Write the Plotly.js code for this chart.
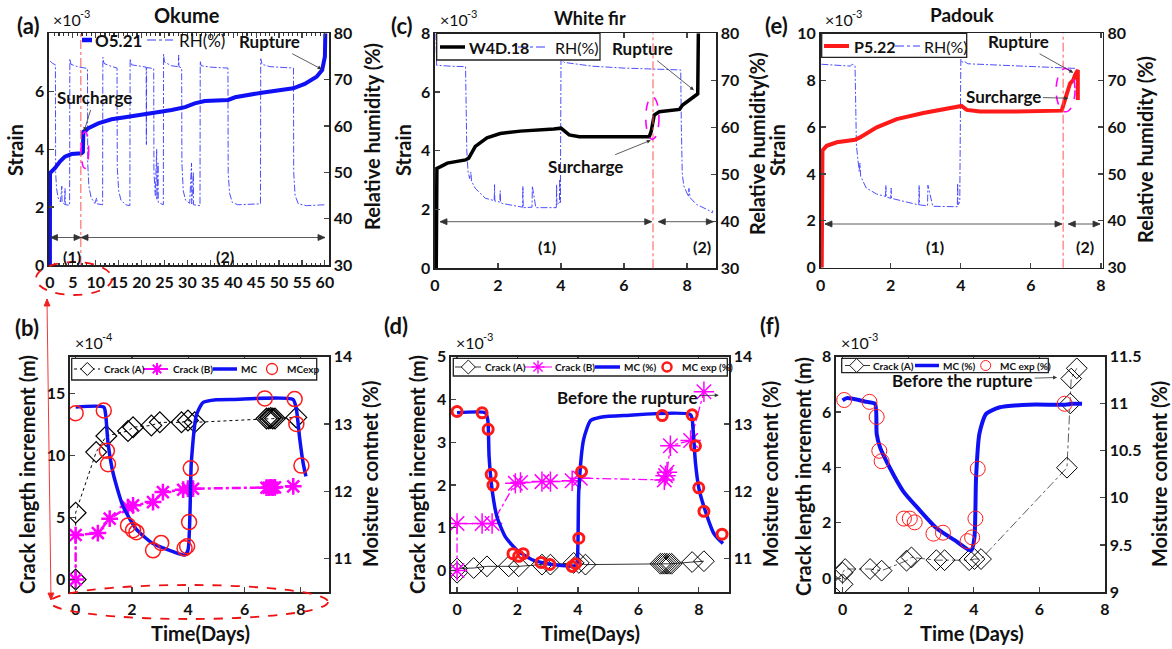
<!DOCTYPE html>
<html>
<head>
<meta charset="utf-8">
<script src="https://cdn.plot.ly/plotly-3.0.1.min.js"></script>
<style>html,body{margin:0;padding:0;background:#fff;}#chart{width:1172px;height:649px;}</style>
</head>
<body>
<div id="chart"></div>
<script>
// ---------- Panel (a) Okume ----------
const aTime = [0, 0.02, 1.09, 2.18, 3.27, 4.73, 6.9, 7.2, 7.3, 8.37, 10.55, 13.46, 16.4, 20.7, 22.9, 26.55, 29.5, 31.6, 33.8, 38.9, 40.4, 46.2, 53.1, 55.6, 58.2, 59.4, 60.0, 60.1];
const aStrain = [0, 3.17, 3.34, 3.57, 3.74, 3.83, 3.86, 3.9, 4.6, 4.72, 4.89, 5.03, 5.1, 5.21, 5.24, 5.35, 5.45, 5.58, 5.66, 5.7, 5.79, 5.95, 6.1, 6.25, 6.5, 6.73, 7.19, 8.0];
const aRhTime = [0.05, 0.6, 1.2, 1.25, 1.45, 1.8, 2.3, 2.6, 2.65, 3.2, 3.3, 3.35, 4.3,
  4.35, 4.6, 6.0, 8.2, 8.25, 8.5, 9.0, 9.8, 10.2, 10.3, 11.5,
  11.55, 11.8, 13.0, 14.65, 14.7, 15.0, 15.5, 16.5, 17.45,
  17.5, 17.8, 20.0, 21.0, 21.05, 21.1, 22.65, 22.7, 23.0, 23.3, 23.35, 23.6, 23.65, 24.75,
  24.8, 25.0, 26.5, 28.0, 28.1, 28.15, 28.75, 28.8, 29.1, 29.6, 30.5, 30.9, 30.95, 31.3, 31.35, 32.75,
  32.8, 33.0, 35.0, 38.85, 38.9, 39.2, 39.8, 41.0, 45.95,
  46.0, 46.3, 48.0, 53.15, 53.2, 53.5, 54.2, 56.0, 60.0];
const aRh = [74.0, 73.5, 73.2, 50, 46.5, 44.5, 43.6, 47, 43.5, 43.1, 46.5, 43.0, 42.9,
  74.5, 73.3, 72.8, 72.4, 52, 47, 44.5, 43.3, 44.5, 43.2, 43.0,
  74.8, 73.5, 73.0, 72.5, 51, 46, 44, 43, 42.8,
  74.5, 73.2, 72.8, 72.7, 56, 72.6, 72.4, 50, 45, 55, 44, 52, 43.5, 43.0,
  75.5, 73.8, 73.0, 72.8, 75.3, 72.8, 72.5, 52, 46, 44, 43.3, 52, 43.2, 50, 43.0, 42.8,
  74.0, 73.0, 72.7, 72.5, 50, 45.5, 43.5, 43.0, 43.2,
  74.5, 73.3, 72.8, 72.5, 50, 45, 43.2, 42.8, 43.0];

// ---------- Panel (c) White fir ----------
const cTime = [0.04, 0.06, 0.18, 0.39, 0.97, 1.07, 1.28, 1.65, 2.07, 2.71, 3.77, 4.0, 4.26, 4.58, 6.8, 6.86, 6.96, 7.12, 7.76, 7.86, 8.29, 8.34, 8.36];
const cStrain = [0, 3.4, 3.46, 3.58, 3.69, 3.75, 4.15, 4.44, 4.59, 4.67, 4.74, 4.77, 4.54, 4.48, 4.48, 4.65, 5.22, 5.33, 5.41, 5.56, 5.9, 5.94, 8.0];
const cRhTime = [0.03, 0.05, 0.5, 0.97, 1.01, 1.05, 1.1, 1.14, 1.16, 1.28, 1.6, 1.88, 1.89, 1.9, 2.06, 2.07, 2.08, 2.13, 2.66, 2.78, 2.79, 2.8, 3.08, 3.09, 3.2, 3.85, 3.86, 3.87, 3.95, 3.96, 3.98,
  4.0, 4.1, 5.0, 6.0, 7.0, 7.8, 7.82, 7.85, 7.9, 8.0, 8.05, 8.06, 8.1, 8.3, 8.5, 8.7, 8.8, 8.82];
const cRh = [80, 73.2, 73.0, 72.9, 55, 50.5, 49.1, 50.5, 48.5, 47.0, 44.9, 44.4, 47.8, 44.3, 44.1, 46.5, 44.0, 43.8, 43.1, 43.0, 47.5, 42.9, 43.0, 47.5, 42.9, 42.9, 47.8, 43.5, 44, 49, 44,
  74.5, 73.8, 73.0, 72.6, 72.3, 72.2, 60, 50, 47.5, 46, 45.2, 47, 45, 43.6, 43.0, 42.3, 41.8, 42.3];

// ---------- Panel (e) Padouk ----------
const eTime = [0.03, 0.05, 0.17, 0.46, 0.98, 1.12, 1.6, 2.17, 2.93, 3.4, 4.02, 4.17, 4.55, 5.5, 6.88, 6.97, 7.12, 7.21, 7.26, 7.34, 7.34];
const eStrain = [0, 5.0, 5.2, 5.35, 5.46, 5.56, 5.99, 6.34, 6.6, 6.74, 6.9, 6.73, 6.66, 6.66, 6.7, 7.15, 7.87, 8.0, 8.22, 8.43, 7.15];
const eRhTime = [0.02, 0.5, 0.85, 0.9, 0.98, 1.02, 1.1, 1.12, 1.14, 1.3, 1.6, 1.85, 1.86, 1.87, 2.0, 2.01, 2.02, 2.4, 2.8, 2.81, 2.82, 3.05, 3.06, 3.2, 3.9, 3.91, 3.92, 3.97,
  4.0, 4.05, 4.1, 4.2, 5.0, 6.0, 7.0, 7.3];
const eRh = [73.4, 73.2, 73.0, 73.4, 73.1, 56, 50.5, 52.3, 49.5, 47.0, 45.7, 45.2, 47.6, 45.1, 44.8, 47.0, 44.8, 44.1, 43.4, 47.6, 43.4, 43.2, 47.6, 43.1, 43.0, 48.0, 43.4, 44,
  74.5, 73.8, 74.0, 73.5, 73.2, 72.9, 72.6, 72.5];

// ---------- Panel (b) Okume cracks ----------
const bCrackATime = [0, 0, 0.73, 1.09, 1.86, 2.04, 2.69, 2.99, 3.76, 3.99, 4.23, 6.78, 6.86, 6.93, 7.0, 7.08, 7.84];
const bCrackA = [0, 5.4, 10.3, 11.6, 12.0, 12.3, 12.45, 12.7, 12.7, 12.85, 12.7, 13.0, 13.0, 13.05, 13.0, 13.0, 13.1];
const bCrackBTime = [0, 0, 0.79, 1.21, 1.86, 2.04, 2.75, 3.1, 3.82, 3.99, 4.17, 6.78, 6.86, 6.93, 7.0, 7.08, 7.73];
const bCrackB = [0, 3.6, 3.76, 4.92, 5.86, 6.0, 6.26, 7.07, 7.26, 7.34, 7.34, 7.42, 7.42, 7.45, 7.42, 7.45, 7.53];
const bMcTime = [0, 1.0, 1.07, 1.15, 1.33, 1.68, 2.16, 2.75, 3.46, 3.87, 3.99, 4.11, 4.29, 4.53, 5.0, 5.59, 7.72, 7.84, 7.96, 8.08, 8.18];
const bMc = [13.25, 13.25, 13.125, 12.72, 12.27, 11.78, 11.43, 11.22, 11.1, 11.05, 11.12, 12.43, 13.13, 13.32, 13.36, 13.365, 13.365, 13.22, 12.78, 12.42, 12.22];
const bMcExpTime = [0, 1.0, 1.11, 1.15, 1.86, 2.04, 2.16, 2.75, 3.04, 3.87, 3.96, 4.03, 4.09, 6.72, 7.78, 7.84, 8.02];
const bMcExp = [13.16, 13.2, 12.6, 12.4, 11.49, 11.42, 11.39, 11.12, 11.23, 11.15, 11.18, 11.54, 12.34, 13.38, 13.37, 13.0, 12.38];

// ---------- Panel (d) White fir cracks ----------
const dCrackATime = [0, 0, 0.55, 0.99, 1.71, 2.04, 2.81, 3.09, 3.86, 4.03, 4.25, 6.73, 6.8, 6.87, 6.95, 7.03, 7.1, 7.78, 8.17];
const dCrackA = [-0.05, 0.05, 0.06, 0.1, 0.1, 0.1, 0.14, 0.14, 0.18, 0.18, 0.14, 0.16, 0.16, 0.16, 0.16, 0.16, 0.16, 0.2, 0.22];
const dCrackBTime = [0, 0, 0.83, 1.16, 1.93, 2.1, 2.81, 3.09, 3.81, 4.08, 6.86, 6.9, 6.95, 7.06, 7.73, 8.17];
const dCrackB = [0, 1.1, 1.1, 1.1, 2.04, 2.06, 2.08, 2.08, 2.1, 2.16, 2.12, 2.22, 2.3, 2.92, 3.04, 4.18];
const dMcTime = [0, 0.94, 1.02, 1.06, 1.16, 1.32, 1.6, 1.99, 2.54, 3.31, 3.92, 3.97, 4.03, 4.19, 4.42, 4.75, 5.52, 7.73, 7.81, 7.89, 8.0, 8.17, 8.5, 8.8];
const dMc = [13.165, 13.165, 13.05, 12.52, 12.02, 11.62, 11.32, 11.12, 10.97, 10.9, 10.89, 10.92, 12.02, 12.77, 13.05, 13.1, 13.125, 13.135, 12.92, 12.42, 12.05, 11.77, 11.37, 11.22];
const dMcExpTime = [0, 0.83, 1.03, 1.13, 1.19, 1.85, 2.04, 2.19, 2.78, 3.07, 3.81, 3.92, 4.03, 4.12, 6.79, 7.78, 7.89, 8.0, 8.17, 8.77];
const dMcExp = [13.185, 13.165, 12.92, 12.25, 12.09, 11.07, 11.03, 11.07, 10.94, 10.91, 10.88, 10.92, 11.3, 12.29, 13.125, 13.135, 12.675, 12.05, 11.7, 11.36];

// ---------- Panel (f) Padouk cracks ----------
const fCrackATime = [0, 0, 0.08, 0.84, 1.19, 1.95, 2.1, 2.86, 3.11, 3.86, 4.02, 4.22, 6.84, 6.94, 6.97, 7.14];
const fCrackA = [-0.22, 0.2, 0.33, 0.33, 0.27, 0.63, 0.75, 0.65, 0.65, 0.65, 0.69, 0.69, 3.99, 6.31, 7.21, 7.58];
const fMcTime = [0, 0.13, 0.74, 0.99, 1.04, 1.14, 1.44, 1.85, 2.35, 2.86, 3.46, 3.92, 4.02, 4.07, 4.17, 4.37, 4.77, 5.68, 6.79, 6.99, 7.3];
const fMc = [11.035, 11.06, 11.02, 11.0, 10.68, 10.54, 10.32, 10.07, 9.87, 9.68, 9.54, 9.44, 9.58, 10.22, 10.68, 10.89, 10.96, 10.99, 10.99, 11.0, 11.0];
const fMcExpTime = [0.05, 0.82, 1.04, 1.12, 1.19, 1.87, 2.05, 2.2, 2.77, 3.06, 3.81, 3.95, 4.05, 4.12, 6.77];
const fMcExp = [11.04, 11.02, 10.86, 10.5, 10.39, 9.78, 9.78, 9.74, 9.62, 9.63, 9.54, 9.58, 9.78, 10.31, 11.0];

// ---------- Tick labels ----------
const aXTicks = [0, 5, 10, 15, 20, 25, 30, 35, 40, 45, 50, 55, 60];
const strainTicksA = [0, 2, 4, 6];
const strainTicksC = [0, 2, 4, 6, 8];
const strainTicksE = [0, 2, 4, 6, 8, 10];
const rhTicks = [30, 40, 50, 60, 70, 80];
const dayTicks = [0, 2, 4, 6, 8];
const bCrackTicks = [0, 5, 10, 15];
const dCrackTicks = [0, 1, 2, 3, 4, 5];
const fCrackTicks = [0, 2, 4, 6, 8];
const mcTicksBD = [11, 12, 13, 14];
const mcTicksF = [9, 9.5, 10, 10.5, 11, 11.5];
const mcTickTextF = ['9', '9.5', '10', '10.5', '11', '11.5'];

// ---------- Styling ----------
const F = 'Lato, "Open Sans", sans-serif';
const tickFont = {family: F, size: 16, color: '#111', weight: 'bold'};
const W = 1172, H = 649;
const px = v => v / W;
const py = v => 1 - v / H;
const BLUE = '#1010f5', RHC = '#3a3aff', MAG = '#ff00ff', RED = '#ff1a1a';
const RHDASH = '7px,2px,2px,2px';

function xAx(d, r, anchor, tv) {
  return {domain: d, range: r, anchor: anchor, tickvals: tv, ticks: 'inside', ticklen: 5, tickwidth: 1.2,
    showline: true, linewidth: 1.6, linecolor: '#222', mirror: 'ticks', showgrid: false, zeroline: false,
    tickfont: tickFont, ticklabelstandoff: 2};
}
function yAx(d, r, anchor, tv, side, over) {
  const o = {range: r, anchor: anchor, tickvals: tv, ticks: 'inside', ticklen: 5, tickwidth: 1.2, side: side,
    showline: true, linewidth: 1.6, linecolor: '#222', showgrid: false, zeroline: false, tickfont: tickFont};
  if (over) o.overlaying = over; else o.domain = d;
  return o;
}

const domTop = [py(265), py(33.3)];
const domBot = [py(592), py(356.7)];

const traces = [
  // (a)
  {x: aRhTime, y: aRh, xaxis: 'x', yaxis: 'y2', mode: 'lines', name: 'RH(%)', line: {color: RHC, width: 0.9, dash: RHDASH}},
  {x: aTime, y: aStrain, xaxis: 'x', yaxis: 'y', mode: 'lines', name: 'O5.21', line: {color: BLUE, width: 4}},
  // (c)
  {x: cRhTime, y: cRh, xaxis: 'x3', yaxis: 'y6', mode: 'lines', name: 'RH(%)', line: {color: RHC, width: 0.9, dash: RHDASH}},
  {x: cTime, y: cStrain, xaxis: 'x3', yaxis: 'y5', mode: 'lines', name: 'W4D.18', line: {color: '#000', width: 3.5}},
  // (e)
  {x: eRhTime, y: eRh, xaxis: 'x5', yaxis: 'y10', mode: 'lines', name: 'RH(%)', line: {color: RHC, width: 0.9, dash: RHDASH}},
  {x: eTime, y: eStrain, xaxis: 'x5', yaxis: 'y9', mode: 'lines', name: 'P5.22', line: {color: RED, width: 4}},
  // (b)
  {x: bCrackATime, y: bCrackA, xaxis: 'x2', yaxis: 'y3', mode: 'lines+markers', name: 'Crack (A)',
    line: {color: '#000', width: 1, dash: 'dot'}, marker: {symbol: 'diamond-open', size: 16, color: '#000', line: {width: 1.2, color: '#000'}}},
  {x: bCrackBTime, y: bCrackB, xaxis: 'x2', yaxis: 'y3', mode: 'lines+markers', name: 'Crack (B)',
    line: {color: MAG, width: 2.5, dash: 'dashdot'}, marker: {symbol: 'asterisk-open', size: 14, color: MAG, line: {width: 2.5, color: MAG}}},
  {x: bMcTime, y: bMc, xaxis: 'x2', yaxis: 'y4', mode: 'lines', name: 'MC',
    line: {color: BLUE, width: 3.5, shape: 'spline', smoothing: 0.6}},
  {x: bMcExpTime, y: bMcExp, xaxis: 'x2', yaxis: 'y4', mode: 'markers', name: 'MCexp',
    marker: {symbol: 'circle-open', size: 15, color: RED, line: {width: 1.5, color: RED}}},
  // (d)
  {x: dCrackATime, y: dCrackA, xaxis: 'x4', yaxis: 'y7', mode: 'lines+markers', name: 'Crack (A)',
    line: {color: '#000', width: 0.8}, marker: {symbol: 'diamond-open', size: 16, color: '#000', line: {width: 1, color: '#000'}}},
  {x: dCrackBTime, y: dCrackB, xaxis: 'x4', yaxis: 'y7', mode: 'lines+markers', name: 'Crack (B)',
    line: {color: MAG, width: 1.3, dash: 'dashdot'}, marker: {symbol: 'asterisk-open', size: 17, color: MAG, line: {width: 1.5, color: MAG}}},
  {x: dMcTime, y: dMc, xaxis: 'x4', yaxis: 'y8', mode: 'lines', name: 'MC (%)',
    line: {color: BLUE, width: 3.5, shape: 'spline', smoothing: 0.6}},
  {x: dMcExpTime, y: dMcExp, xaxis: 'x4', yaxis: 'y8', mode: 'markers', name: 'MC exp (%)',
    marker: {symbol: 'circle-open', size: 10, color: RED, line: {width: 3, color: RED}}},
  // (f)
  {x: fCrackATime, y: fCrackA, xaxis: 'x6', yaxis: 'y11', mode: 'lines+markers', name: 'Crack (A)',
    line: {color: '#333', width: 0.8, dash: 'dashdot'}, marker: {symbol: 'diamond-open', size: 16, color: '#000', line: {width: 1, color: '#000'}}},
  {x: fMcTime, y: fMc, xaxis: 'x6', yaxis: 'y12', mode: 'lines', name: 'MC (%)',
    line: {color: BLUE, width: 4, shape: 'spline', smoothing: 0.6}},
  {x: fMcExpTime, y: fMcExp, xaxis: 'x6', yaxis: 'y12', mode: 'markers', name: 'MC exp (%)',
    marker: {symbol: 'circle-open', size: 15, color: RED, line: {width: 1, color: RED}}}
];

const annFont = {family: F, size: 17, color: '#111', weight: 'bold'};
function ptxt(text, x, y, size, angle, weight, anchor) {
  return {text: text, xref: 'paper', yref: 'paper', x: px(x), y: py(y), showarrow: false, textangle: angle || 0,
    xanchor: anchor || 'center', yanchor: 'middle', font: {family: F, size: size, color: '#111', weight: weight || 'bold'}};
}
function dtxt(text, xr, yr, x, y, size) {
  return {text: text, xref: xr, yref: yr, x: x, y: y, showarrow: false, xanchor: 'center', yanchor: 'middle',
    font: {family: F, size: size || 17, color: '#111', weight: 'bold'}};
}
function arrT(text, xr, yr, tx, ty, x1, y1) {
  return {text: text, xref: xr, yref: yr, axref: xr, ayref: yr, x: x1, y: y1, ax: tx, ay: ty, showarrow: true,
    arrowhead: 2, arrowsize: 1, arrowwidth: 0.8, arrowcolor: '#333', font: annFont};
}
// "×10" with a raised exponent, as two plain texts
function expo(x0, y, e) {
  return [ptxt('×10', x0, y + 2, 16, 0, 'normal', 'left'), ptxt(e, x0 + 27, y - 4, 11, 0, 'normal', 'left')];
}

const annotations = [
  // panel labels and titles
  ptxt('(a)', 28, 25, 22), ptxt('(c)', 402, 25, 22), ptxt('(e)', 776, 25, 22),
  ptxt('(b)', 27, 327, 22), ptxt('(d)', 396, 325, 22), ptxt('(f)', 770, 325, 22),
  ptxt('Okume', 187, 15, 20), ptxt('White fir', 590, 18, 18), ptxt('Padouk', 962, 15, 19),
  ...expo(51, 18, '-3'), ...expo(438, 18, '-3'), ...expo(823, 18, '-3'),
  ...expo(73, 340, '-4'), ...expo(454, 340, '-3'), ...expo(839, 340, '-3'),
  // axis titles
  ptxt('Strain', 15, 150, 20, -90), ptxt('Relative humidity (%)', 372, 137, 20, -90),
  ptxt('Strain', 403, 150, 20, -90), ptxt('Relative humidity(%)', 757, 144, 20, -90),
  ptxt('Strain', 777, 150, 20, -90), ptxt('Relative humidity (%)', 1145, 150, 20, -90),
  ptxt('Crack length increment (m)', 27, 475, 20, -90), ptxt('Moisture contnet (%)', 370, 474, 20, -90),
  ptxt('Crack length increment (m)', 417, 475, 20, -90), ptxt('Moisture content (%)', 770, 474, 20, -90),
  ptxt('Crack length increment (m)', 803, 477, 20, -90), ptxt('Moisture content (%)', 1159, 474, 20, -90),
  ptxt('Time(Days)', 200, 633, 20), ptxt('Time(Days)', 590, 633, 20), ptxt('Time (Days)', 972, 633, 20),
  // panel (a)
  arrT('Surcharge', 'x', 'y', 9.7, 5.77, 7.45, 4.62),
  arrT('Rupture', 'x', 'y', 47.9, 7.71, 59.3, 6.76),
  dtxt('(1)', 'x', 'y', 4.73, 0.29, 16), dtxt('(2)', 'x', 'y', 38.2, 0.29, 16),
  // panel (c)
  arrT('Rupture', 'x3', 'y5', 6.58, 7.48, 8.22, 6.06),
  arrT('Surcharge', 'x3', 'y5', 4.78, 3.46, 6.85, 4.36),
  dtxt('(1)', 'x3', 'y5', 3.57, 0.73, 16), dtxt('(2)', 'x3', 'y5', 8.49, 0.73, 16),
  // panel (e)
  arrT('Rupture', 'x5', 'y9', 5.64, 9.64, 7.21, 8.32),
  arrT('Surcharge', 'x5', 'y9', 5.23, 7.3, 7.07, 7.23),
  dtxt('(1)', 'x5', 'y9', 3.26, 0.9, 16), dtxt('(2)', 'x5', 'y9', 7.54, 0.9, 16),
  // panel (d), (f)
  arrT('Before the rupture', 'x4', 'y7', 5.63, 4.05, 8.66, 4.1),
  arrT('Before the rupture', 'x6', 'y11', 3.66, 7.15, 6.54, 7.25)
];

// ---------- shapes (pixel-based helpers for decorations) ----------
function P(x, y) { return px(x).toFixed(5) + ',' + py(y).toFixed(5); }
function lineS(x0, y0, x1, y1, color, width, dash) {
  return {type: 'line', xref: 'paper', yref: 'paper', x0: px(x0), y0: py(y0), x1: px(x1), y1: py(y1),
    line: {color: color, width: width, dash: dash || 'solid'}};
}
function rectS(x0, y0, x1, y1) {
  return {type: 'rect', xref: 'paper', yref: 'paper', x0: px(x0), y0: py(y1), x1: px(x1), y1: py(y0),
    fillcolor: '#fff', line: {color: '#222', width: 1.3}};
}
function diamondS(cx, cy, r, color, w) {
  return {type: 'path', xref: 'paper', yref: 'paper',
    path: 'M' + P(cx, cy - r) + 'L' + P(cx + r, cy) + 'L' + P(cx, cy + r) + 'L' + P(cx - r, cy) + 'Z',
    fillcolor: '#fff', line: {color: color, width: w}};
}
function circleS(cx, cy, r, color, w) {
  return {type: 'circle', xref: 'paper', yref: 'paper', x0: px(cx - r), x1: px(cx + r), y0: py(cy + r), y1: py(cy - r),
    line: {color: color, width: w}};
}
function starS(cx, cy, r, color, w) {
  const d = r * 0.707;
  return {type: 'path', xref: 'paper', yref: 'paper',
    path: 'M' + P(cx - r, cy) + 'L' + P(cx + r, cy) + 'M' + P(cx, cy - r) + 'L' + P(cx, cy + r) +
      'M' + P(cx - d, cy - d) + 'L' + P(cx + d, cy + d) + 'M' + P(cx - d, cy + d) + 'L' + P(cx + d, cy - d),
    line: {color: color, width: w}};
}
function arrowS(x0, y0, x1, y1, both, color, w) {
  const L = Math.hypot(x1 - x0, y1 - y0), ux = (x1 - x0) / L, uy = (y1 - y0) / L;
  const hl = 7, hw = 3;
  function head(x, y, sx, sy) {
    const bx = x - hl * sx, by = y - hl * sy;
    return 'M' + P(bx - hw * sy, by + hw * sx) + 'L' + P(x, y) + 'L' + P(bx + hw * sy, by - hw * sx) + 'Z';
  }
  let path = 'M' + P(x0, y0) + 'L' + P(x1, y1) + head(x1, y1, ux, uy);
  if (both) path += head(x0, y0, -ux, -uy);
  return {type: 'path', xref: 'paper', yref: 'paper', path: path, fillcolor: color, line: {color: color, width: w}};
}
function vline(xr, yr, x) {
  return {type: 'line', xref: xr, yref: yr + ' domain', x0: x, x1: x, y0: 0, y1: 1, line: {color: '#ff5555', width: 1, dash: 'dashdot'}};
}
function ell(xr, yr, x0, x1, y0, y1, color, dash, w) {
  return {type: 'circle', xref: xr, yref: yr, x0: x0, x1: x1, y0: y0, y1: y1, line: {color: color, width: w || 1.6, dash: dash}};
}

const shapes = [
  vline('x', 'y2', 6.75), vline('x3', 'y6', 6.92), vline('x5', 'y10', 6.92),
  ell('x', 'y', 6.8, 8.45, 3.34, 4.6, MAG, 'dash'),
  ell('x3', 'y5', 6.69, 7.11, 4.39, 5.84, MAG, 'dash'),
  ell('x5', 'y9', 6.72, 7.26, 6.65, 8.5, MAG, 'dash'),
  ell('paper', 'paper', px(36), px(112), py(295), py(262), '#ee1111', 'dash', 1.8),
  ell('paper', 'paper', px(50), px(328), py(619), py(585), '#ee1111', 'dash', 1.8),
  arrowS(47, 299, 51, 600, true, '#ee2222', 0.9),
  // period arrows (1)/(2)
  arrowS(50.5, 237.5, 81, 237.5, true, '#333', 0.8), arrowS(81, 237.5, 325, 237.5, true, '#333', 0.8),
  arrowS(440, 221.7, 651.7, 221.7, true, '#333', 0.8), arrowS(658.3, 221.7, 713.3, 221.7, true, '#333', 0.8),
  arrowS(825, 224, 1062, 224, true, '#333', 0.8), arrowS(1068.3, 224, 1100, 224, true, '#333', 0.8)
];

// ---------- legends (drawn as boxes, samples and texts) ----------
const legTexts = [];
function legText(t, x, y, size, weight) {
  legTexts.push(ptxt(t, x, y, size, 0, weight || 'bold', 'left'));
}
// (a)
shapes.push(lineS(82, 40, 92, 40, BLUE, 4.5)); legText('O5.21', 93, 40, 17);
shapes.push(lineS(147, 40, 173, 40, RHC, 1, 'dashdot')); legText('RH(%)', 177, 40, 17, 'normal');
// (c)
shapes.push(rectS(436.7, 33.3, 600, 60));
shapes.push(lineS(440, 47, 465, 47, '#000', 3.5)); legText('W4D.18', 467, 47, 16);
shapes.push(lineS(518, 47, 547, 47, RHC, 1, 'dashdot')); legText('RH(%)', 553, 47, 16, 'normal');
// (e)
shapes.push(rectS(821.7, 33.3, 966.7, 57.3));
shapes.push(lineS(824, 46, 849, 46, RED, 4)); legText('P5.22', 852, 46, 16);
shapes.push(lineS(895, 46, 920, 46, RHC, 1, 'dashdot')); legText('RH(%)', 922, 46, 16, 'normal');
// (b)
shapes.push(rectS(71.7, 358.3, 316.7, 380));
shapes.push(lineS(74, 369, 100, 369, '#000', 1, 'dot')); shapes.push(diamondS(87.3, 369, 6.5, '#000', 1)); legText('Crack (A)', 102, 369, 10);
shapes.push(lineS(143, 369, 168, 369, MAG, 2, 'dashdot')); shapes.push(starS(157, 369, 6, MAG, 2)); legText('Crack (B)', 171, 369, 10);
shapes.push(lineS(213, 369, 237, 369, BLUE, 3.5)); legText('MC', 239, 369, 10);
shapes.push(circleS(272, 369, 5.5, RED, 1.3)); legText('MCexp', 285, 369, 10);
// (d)
shapes.push(rectS(453.3, 358.3, 727.3, 376));
shapes.push(lineS(455, 367, 481, 367, '#000', 0.8)); shapes.push(diamondS(468.3, 367, 7, '#000', 0.9)); legText('Crack (A)', 483, 367, 10);
shapes.push(lineS(525, 367, 552, 367, MAG, 1.2, 'dashdot')); shapes.push(starS(538, 367, 6.5, MAG, 1.4)); legText('Crack (B)', 553, 367, 10);
shapes.push(lineS(595, 367, 620, 367, BLUE, 3.5)); legText('MC (%)', 622, 367, 10);
shapes.push(circleS(667, 367, 4.5, RED, 2.5)); legText('MC exp (%)', 680, 367, 10);
// (f)
shapes.push(rectS(841.7, 358.3, 1048.3, 372.7));
shapes.push(lineS(845, 365.5, 870, 365.5, '#000', 0.8, 'dash')); shapes.push(diamondS(856.7, 365.5, 7, '#000', 0.9)); legText('Crack (A)', 871, 365.5, 10);
shapes.push(lineS(915, 365.5, 939, 365.5, BLUE, 3.5)); legText('MC (%)', 941, 365.5, 10);
shapes.push(circleS(985.7, 365.5, 5, RED, 1)); legText('MC exp (%)', 998, 365.5, 10);

const layout = {
  width: W, height: H, margin: {l: 0, r: 0, t: 0, b: 0}, paper_bgcolor: '#fff', plot_bgcolor: 'rgba(0,0,0,0)',
  font: {family: F, color: '#111'}, showlegend: false,
  xaxis: xAx([px(49), px(329)], [-0.2, 60.9], 'y2', aXTicks),
  yaxis: yAx(null, [0, 8], 'x', strainTicksA, 'left', 'y2'),
  yaxis2: yAx(domTop, [30, 80], 'x', rhTicks, 'right'),
  xaxis3: xAx([px(435), px(716)], [0, 8.92], 'y6', dayTicks),
  yaxis5: yAx(null, [0, 8], 'x3', strainTicksC, 'left', 'y6'),
  yaxis6: yAx([py(268.3), py(33.3)], [30, 80], 'x3', rhTicks, 'right'),
  xaxis5: xAx([px(820.7), px(1102.7)], [0, 8.05], 'y10', dayTicks),
  yaxis9: yAx(null, [0, 10], 'x5', strainTicksE, 'left', 'y10'),
  yaxis10: yAx([py(267.7), py(33.3)], [30, 80], 'x5', rhTicks, 'right'),
  xaxis2: xAx([px(70), px(329)], [-0.2, 9.0], 'y3', dayTicks),
  yaxis3: yAx(domBot, [-1, 18], 'x2', bCrackTicks, 'left'),
  yaxis4: yAx(null, [10.5, 14], 'x2', mcTicksBD, 'right', 'y3'),
  xaxis4: xAx([px(451), px(729)], [-0.2, 9.0], 'y7', dayTicks),
  yaxis7: yAx(domBot, [-0.5, 5], 'x4', dCrackTicks, 'left'),
  yaxis8: yAx(null, [10.5, 14], 'x4', mcTicksBD, 'right', 'y7'),
  xaxis6: xAx([px(836), px(1105)], [-0.2, 8], 'y11', dayTicks),
  yaxis11: yAx(domBot, [-0.5, 8], 'x6', fCrackTicks, 'left'),
  yaxis12: yAx(null, [9, 11.5], 'x6', mcTicksF, 'right', 'y11'),
  annotations: annotations.concat(legTexts),
  shapes: shapes
};
layout.xaxis.minor = {ticks: 'inside', ticklen: 2.5, dtick: 1, tickcolor: '#333'};
layout.yaxis12.ticktext = mcTickTextF;

Plotly.newPlot('chart', traces, layout, {staticPlot: true, displayModeBar: false});
</script>
</body>
</html>
